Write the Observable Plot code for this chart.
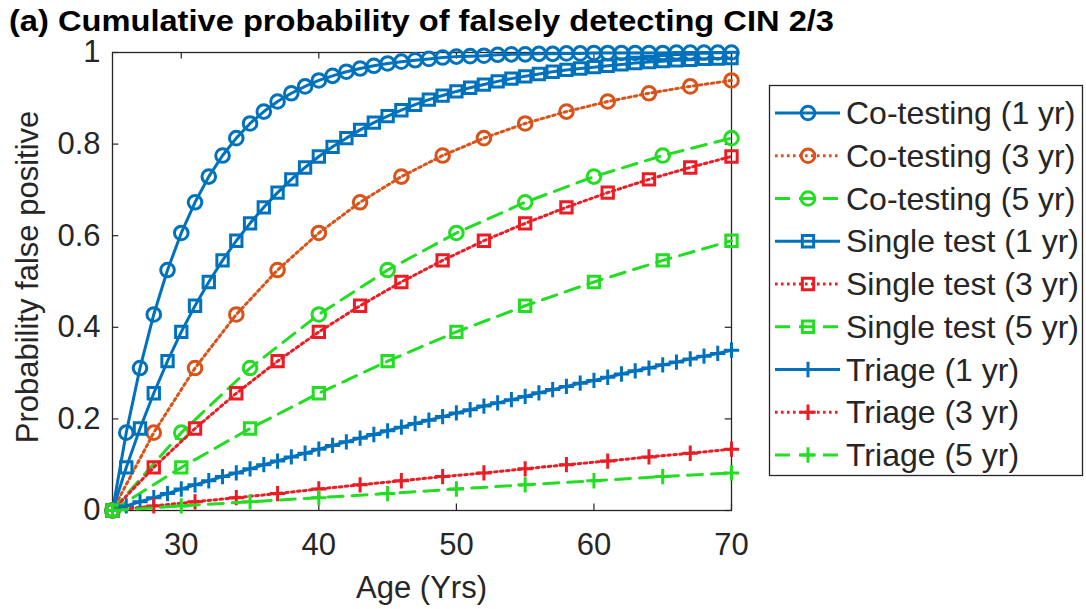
<!DOCTYPE html>
<html><head><meta charset="utf-8">
<script src="https://cdn.jsdelivr.net/npm/d3@7"></script>
<script src="https://cdn.jsdelivr.net/npm/@observablehq/plot@0.6"></script>
<style>
body{margin:0;background:#fff;}
#wrap{position:relative;width:1086px;height:609px;overflow:hidden;font-family:"Liberation Sans",Arial,Helvetica,sans-serif;}
#wrap > svg{position:absolute;left:0;top:0;}
</style></head><body><div id="wrap"></div>
<script>
// ---- data ----
const titleText = "(a) Cumulative probability of falsely detecting CIN 2/3";
const xLabel = "Age (Yrs)";
const yLabel = "Probability false positive";
const xTicks = [30, 40, 50, 60, 70];
const yTicks = [0, 0.2, 0.4, 0.6, 0.8, 1];

const ages1 = [25,26,27,28,29,30,31,32,33,34,35,36,37,38,39,40,41,42,43,44,45,46,47,48,49,50,51,52,53,54,55,56,57,58,59,60,61,62,63,64,65,66,67,68,69,70];
const ages3 = [25,28,31,34,37,40,43,46,49,52,55,58,61,64,67,70];
const ages5 = [25,30,35,40,45,50,55,60,65,70];

const coTesting1 = [0,.170,.311,.428,.525,.606,.673,.729,.775,.813,.845,.871,.893,.911,.926,.939,.949,.958,.965,.971,.976,.980,.983,.986,.989,.991,.992,.993,.995,.996,.996,.997,.997,.998,.998,.999,.999,.999,.999,.999,.999,1,1,1,1,1];
const coTesting3 = [0,.170,.311,.428,.525,.606,.673,.729,.775,.813,.845,.871,.893,.911,.926,.939];
const coTesting5 = [0,.170,.311,.428,.525,.606,.673,.729,.775,.813];
const singleTest1 = [0,.094,.179,.256,.326,.390,.447,.499,.546,.589,.627,.662,.694,.723,.749,.773,.794,.813,.831,.847,.861,.874,.886,.897,.906,.915,.923,.930,.937,.943,.948,.953,.958,.962,.965,.968,.971,.974,.977,.979,.981,.983,.984,.986,.987,.988];
const singleTest3 = [0,.094,.179,.256,.326,.390,.447,.499,.546,.589,.627,.662,.694,.723,.749,.773];
const singleTest5 = [0,.094,.179,.256,.326,.390,.447,.499,.546,.589];
const triage1 = [0,.010,.019,.028,.037,.047,.056,.065,.074,.082,.091,.100,.108,.117,.125,.134,.142,.150,.158,.166,.174,.182,.190,.197,.205,.213,.220,.228,.235,.242,.249,.257,.264,.271,.278,.284,.291,.298,.305,.311,.318,.324,.331,.337,.343,.350];
const triage3 = [0,.010,.019,.028,.037,.047,.056,.065,.074,.082,.091,.100,.108,.117,.125,.134];
const triage5 = [0,.010,.019,.028,.037,.047,.056,.065,.074,.082];

const seriesNames = ["Co-testing (1 yr)","Co-testing (3 yr)","Co-testing (5 yr)","Single test (1 yr)","Single test (3 yr)","Single test (5 yr)","Triage (1 yr)","Triage (3 yr)","Triage (5 yr)"];
const seriesAges = [ages1, ages3, ages5, ages1, ages3, ages5, ages1, ages3, ages5];
const seriesValues = [coTesting1, coTesting3, coTesting5, singleTest1, singleTest3, singleTest5, triage1, triage3, triage5];

// ---- styles ----
const BLUE = "#0072bd", ORANGE = "#d95319", GREEN = "#22dd22", RED = "#ec1c24";
const seriesColors = [BLUE, ORANGE, GREEN, BLUE, RED, GREEN, BLUE, RED, GREEN];
const seriesDash = ["none","2.6,3.4","15,9","none","2.6,3.4","15,9","none","2.6,3.4","15,9"];
const seriesSymbol = ["circle","circle","circle","square","square","square","plus","plus","plus"];
const symR = {circle: 6.8, square: 6.4, plus: 5};
const symD3 = {circle: d3.symbolCircle, square: d3.symbolSquare, plus: d3.symbolPlus};
const TXT = "#262626";

const W = 1086, H = 609, mL = 112, mR = 355, mT = 52, mB = 99;

const marks = [];
seriesNames.forEach((name, k) => {
  const data = seriesAges[k].map((a, i) => ({age: a, p: seriesValues[k][i], name}));
  marks.push(Plot.line(data, {x: "age", y: "p", stroke: seriesColors[k], strokeWidth: 3, strokeDasharray: seriesDash[k]}));
  marks.push(Plot.dot(data, {x: "age", y: "p", symbol: seriesSymbol[k], r: symR[seriesSymbol[k]], stroke: seriesColors[k], strokeWidth: 3, fill: "none"}));
});

const chart = Plot.plot({
  width: W, height: H,
  marginLeft: mL, marginRight: mR, marginTop: mT, marginBottom: mB,
  x: {domain: [25, 70]},
  y: {domain: [0, 1]},
  style: {fontFamily: '"Liberation Sans", Arial, Helvetica, sans-serif', fontSize: "31px", color: TXT, background: "transparent", overflow: "visible"},
  marks: [
    Plot.ruleX(xTicks, {x: d => d, y1: 0, y2: 0.014, stroke: TXT, strokeWidth: 1.2}),
    Plot.ruleX(xTicks, {x: d => d, y1: 1, y2: 0.986, stroke: TXT, strokeWidth: 1.2}),
    Plot.ruleY(yTicks, {y: d => d, x1: 25, x2: 25.46, stroke: TXT, strokeWidth: 1.2}),
    Plot.ruleY(yTicks, {y: d => d, x1: 70, x2: 69.54, stroke: TXT, strokeWidth: 1.2}),
    Plot.frame({stroke: TXT, strokeWidth: 1.3}),
    Plot.axisX({ticks: xTicks, tickSize: 0, tickPadding: 22, label: null, tickFormat: d => String(d)}),
    Plot.axisY({ticks: yTicks, tickSize: 0, tickPadding: 12, label: null, tickFormat: d => String(d)}),
    ...marks
  ]
});
const wrap = document.getElementById("wrap");
wrap.appendChild(chart);

// ---- overlay: title, axis labels, legend ----
const ov = d3.select(wrap).append("svg").attr("width", W).attr("height", H)
  .style("font-family", '"Liberation Sans", Arial, Helvetica, sans-serif');

ov.append("text").attr("x", 9).attr("y", 31).attr("font-size", 29).attr("font-weight", "bold")
  .attr("fill", "#000").attr("textLength", 825).attr("lengthAdjust", "spacingAndGlyphs").text(titleText);

ov.append("text").attr("x", (mL + (W - mR)) / 2).attr("y", 598).attr("text-anchor", "middle")
  .attr("font-size", 31).attr("fill", TXT).text(xLabel);

ov.append("text").attr("transform", "translate(38,277) rotate(-90)").attr("text-anchor", "middle")
  .attr("font-size", 31).attr("fill", TXT).text(yLabel);

const lg = ov.append("g");
lg.append("rect").attr("x", 769.5).attr("y", 85.5).attr("width", 313).attr("height", 390)
  .attr("fill", "#fff").attr("stroke", TXT).attr("stroke-width", 1.3);
const row0 = 113, rowH = 42.75;
seriesNames.forEach((name, k) => {
  const y = row0 + k * rowH;
  lg.append("line").attr("x1", 775).attr("x2", 840).attr("y1", y).attr("y2", y)
    .attr("stroke", seriesColors[k]).attr("stroke-width", 3)
    .attr("stroke-dasharray", seriesDash[k] === "none" ? null : seriesDash[k]);
  const r = symR[seriesSymbol[k]];
  lg.append("path").attr("transform", `translate(808,${y})`)
    .attr("d", d3.symbol(symD3[seriesSymbol[k]], r * r * Math.PI)())
    .attr("fill", "none").attr("stroke", seriesColors[k]).attr("stroke-width", 3);
  lg.append("text").attr("x", 846).attr("y", y + 11).attr("font-size", 32).attr("fill", TXT).text(name);
});
</script></body></html>
